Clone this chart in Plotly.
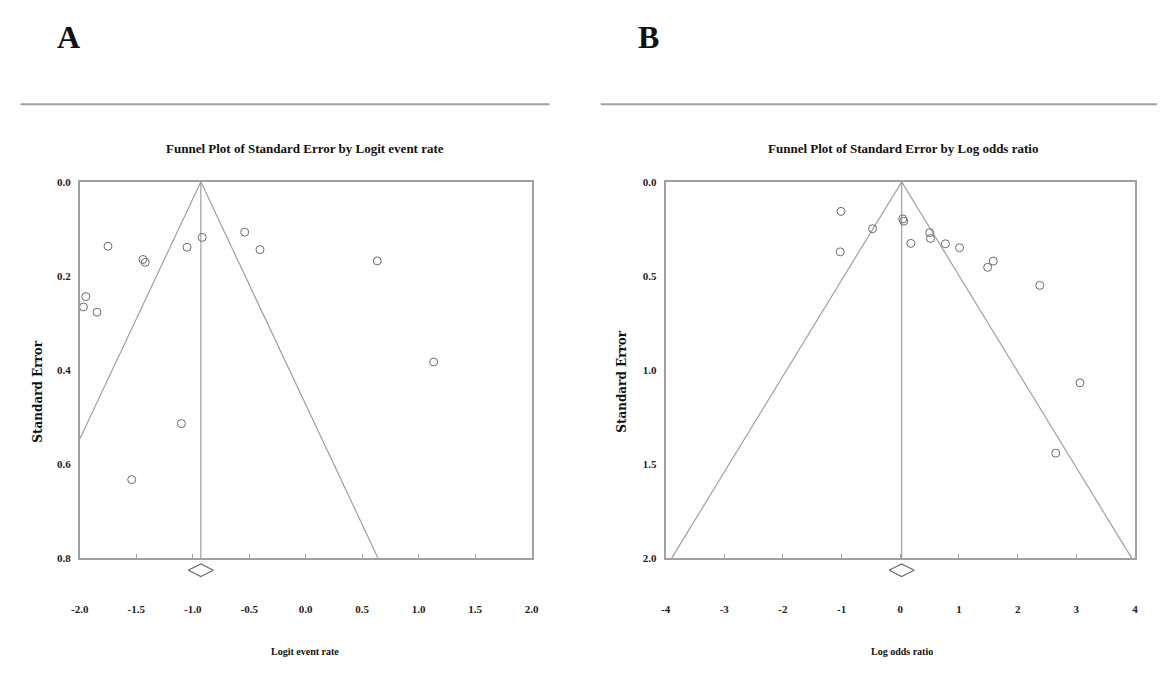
import plotly.graph_objects as go

# ---------------- Data ----------------
# Panel A: Logit event rate vs Standard Error
a_logit = [-1.75, -1.44, -1.42, -1.05, -0.916, -0.54, -0.405, 0.633,
           -1.946, -1.967, -1.847, 1.132, -1.10, -1.54]
a_se = [0.137, 0.165, 0.171, 0.139, 0.118, 0.107, 0.144, 0.168,
        0.244, 0.266, 0.277, 0.383, 0.514, 0.633]
a_pooled = -0.928
a_se_max = 0.8
a_xticks = [-2.0, -1.5, -1.0, -0.5, 0.0, 0.5, 1.0, 1.5, 2.0]
a_xtick_text = ["-2.0", "-1.5", "-1.0", "-0.5", "0.0", "0.5", "1.0", "1.5", "2.0"]
a_yticks = [0.0, 0.2, 0.4, 0.6, 0.8]
a_ytick_text = ["0.0", "0.2", "0.4", "0.6", "0.8"]

# Panel B: Log odds ratio vs Standard Error
b_lor = [-1.01, -0.472, -1.023, 0.042, 0.06, 0.18, 0.502, 0.514,
         0.769, 1.01, 1.489, 1.585, 2.378, 3.062, 2.65]
b_se = [0.157, 0.249, 0.372, 0.197, 0.209, 0.327, 0.270, 0.301,
        0.329, 0.350, 0.454, 0.421, 0.550, 1.068, 1.442]
b_pooled = 0.024
b_se_max = 2.0
b_xticks = [-4, -3, -2, -1, 0, 1, 2, 3, 4]
b_xtick_text = ["-4", "-3", "-2", "-1", "0", "1", "2", "3", "4"]
b_yticks = [0.0, 0.5, 1.0, 1.5, 2.0]
b_ytick_text = ["0.0", "0.5", "1.0", "1.5", "2.0"]

# ---------------- Styling ----------------
W, H = 1164, 685
GRAY = "#a0a0a0"
PT = "#6a6a6a"
SERIF = "Liberation Serif, Times New Roman, serif"
WIDE = "DejaVu Serif, serif"

TOP_PX, BOT_PX, EXT_PX = 179, 562, 600
ytop = 1 - TOP_PX / H
ybot = 1 - BOT_PX / H
yext = 1 - EXT_PX / H
ext_factor = (EXT_PX - TOP_PX) / (BOT_PX - TOP_PX)

fig = go.Figure()


def add_panel(xs, ys, pooled, se_max, xa, ya, xd, yd):
    # funnel (95% pseudo-confidence limits)
    fig.add_trace(go.Scatter(
        x=[pooled - 1.96 * se_max, pooled, pooled + 1.96 * se_max],
        y=[se_max, 0, se_max], mode="lines",
        line=dict(color=GRAY, width=1.2), xaxis=xa, yaxis=ya,
        hoverinfo="skip", showlegend=False))
    # pooled estimate vertical line
    fig.add_trace(go.Scatter(
        x=[pooled, pooled], y=[0, se_max], mode="lines",
        line=dict(color=GRAY, width=1.2), xaxis=xa, yaxis=ya,
        hoverinfo="skip", showlegend=False))
    # studies
    fig.add_trace(go.Scatter(
        x=xs, y=ys, mode="markers", cliponaxis=False,
        marker=dict(symbol="circle-open", size=8, color=PT,
                    line=dict(color=PT, width=1)),
        xaxis=xa, yaxis=ya, showlegend=False))
    # pooled diamond below the axis (on an invisible extended axis pair)
    fig.add_trace(go.Scatter(
        x=[pooled], y=[se_max * 1.032], mode="markers", cliponaxis=False,
        marker=dict(symbol="diamond-wide-open", size=18, color=PT,
                    line=dict(color=PT, width=1.2)),
        xaxis=xd, yaxis=yd, showlegend=False, hoverinfo="skip"))


add_panel(a_logit, a_se, a_pooled, a_se_max, "x", "y", "x3", "y3")
add_panel(b_lor, b_se, b_pooled, b_se_max, "x2", "y2", "x4", "y4")

tickfont = dict(family=SERIF, size=11, color="#222222", weight="bold")

common_x = dict(showgrid=False, zeroline=False, showline=True, mirror=True,
                linecolor=GRAY, linewidth=1.5, ticks="inside", ticklen=4,
                tickcolor=GRAY, tickfont=tickfont, ticklabelstandoff=40,
                fixedrange=True)
common_y = dict(showgrid=False, zeroline=False, showline=True, mirror=True,
                linecolor=GRAY, linewidth=1.5, ticks="", tickfont=tickfont,
                ticklabelstandoff=5, fixedrange=True)
hidden = dict(visible=False, showgrid=False, zeroline=False, fixedrange=True)

a_dom = [71.7 / W, 530 / W]
b_dom = [665.7 / W, 1141.7 / W]

fig.update_layout(
    width=W, height=H,
    margin=dict(l=0, r=0, t=0, b=0),
    paper_bgcolor="white", plot_bgcolor="rgba(0,0,0,0)",
    xaxis=dict(domain=a_dom, range=[-2, 2],
               tickvals=a_xticks, ticktext=a_xtick_text, anchor="y", **common_x),
    yaxis=dict(domain=[ybot, ytop], range=[a_se_max, 0],
               tickvals=a_yticks, ticktext=a_ytick_text, anchor="x", **common_y),
    xaxis2=dict(domain=b_dom, range=[-4, 4],
                tickvals=b_xticks, ticktext=b_xtick_text, anchor="y2", **common_x),
    yaxis2=dict(domain=[ybot, ytop], range=[b_se_max, 0],
                tickvals=b_yticks, ticktext=b_ytick_text, anchor="x2", **common_y),
    xaxis3=dict(domain=a_dom, range=[-2, 2], anchor="y3", **hidden),
    yaxis3=dict(domain=[yext, ytop], range=[a_se_max * ext_factor, 0],
                anchor="x3", **hidden),
    xaxis4=dict(domain=b_dom, range=[-4, 4], anchor="y4", **hidden),
    yaxis4=dict(domain=[yext, ytop], range=[b_se_max * ext_factor, 0],
                anchor="x4", **hidden),
)

# separator lines under panel letters
fig.add_shape(type="line", xref="paper", yref="paper",
              x0=11.7 / W, x1=548 / W, y0=1 - 100 / H, y1=1 - 100 / H,
              line=dict(color=GRAY, width=2))
fig.add_shape(type="line", xref="paper", yref="paper",
              x0=600 / W, x1=1.0, y0=1 - 100 / H, y1=1 - 100 / H,
              line=dict(color=GRAY, width=2))


def ann(text, x, y, size, family=SERIF, angle=0):
    fig.add_annotation(text=text, x=x / W, y=1 - y / H, xref="paper", yref="paper",
                       showarrow=False, textangle=angle,
                       font=dict(family=family, size=size, color="#111111"),
                       xanchor="center", yanchor="middle")


ann("<b>A</b>", 60, 32, 32)
ann("<b>B</b>", 648, 32, 32)
ann("<b>Funnel Plot of Standard Error by Logit event rate</b>", 300, 145, 13)
ann("<b>Funnel Plot of Standard Error by Log odds ratio</b>", 906, 145, 13)
ann("<b>Logit event rate</b>", 300, 657, 10)
ann("<b>Log odds ratio</b>", 905, 657, 10)
ann("<b>Standard Error</b>", 30, 392, 12, family=WIDE, angle=-90)
ann("<b>Standard Error</b>", 622, 382, 12, family=WIDE, angle=-90)

fig.write_html(
    "out.html",
    config={"displayModeBar": False},
    post_script="document.body.style.margin='0px';document.body.style.overflow='hidden';",
)
